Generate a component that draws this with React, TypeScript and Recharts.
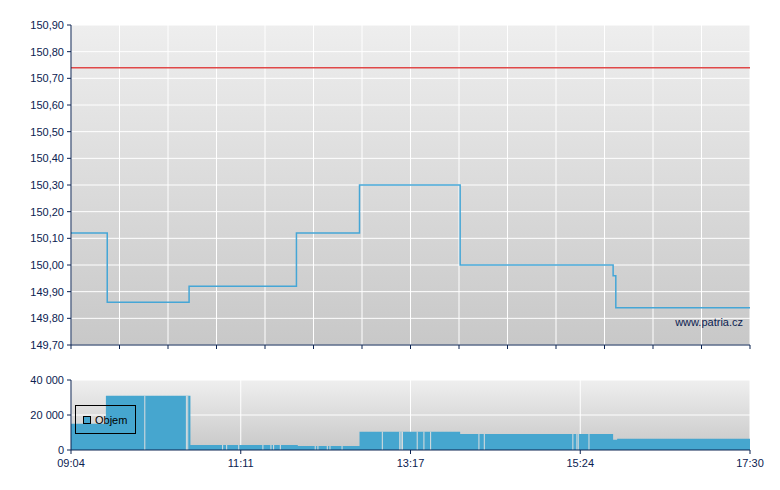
import React from 'react';
import {
  ComposedChart,
  Line,
  Area,
  XAxis,
  YAxis,
  CartesianGrid,
  ReferenceLine,
  Legend,
} from 'recharts';

// ---- data ----
const START = '09:04';
const END = '17:30';

const priceTimes = ['09:04', '09:31', '10:32', '11:52', '12:39', '13:54', '15:48', '15:50', '17:30'];
const priceValues = [150.12, 149.86, 149.92, 150.12, 150.3, 150.0, 149.96, 149.84, 149.84];
const referencePrice = 150.74;
const priceTicks = [149.7, 149.8, 149.9, 150.0, 150.1, 150.2, 150.3, 150.4, 150.5, 150.6, 150.7, 150.8, 150.9];

const volumeTimes = ['09:04', '09:30', '10:33', '11:53', '12:39', '13:54', '15:48', '15:51', '17:30'];
const volumeValues = [15000, 31000, 2900, 2300, 10500, 9200, 5900, 6500, 6500];
const volumeTicks = [0, 20000, 40000];
const volumeBreaks = [
  '09:59', '10:30', '10:31', '10:57', '11:00', '11:09', '11:27', '11:33', '11:35', '11:40',
  '12:06', '12:08', '12:15', '12:17', '12:26', '12:56', '13:09', '13:10', '13:11', '13:22',
  '13:27', '13:32', '14:08', '14:12', '15:18', '15:21', '15:22', '15:30',
];
const timeTickLabels = ['09:04', '11:11', '13:17', '15:24', '17:30'];
const priceGridDivisions = 14;

// ---- helpers ----
const toMin = (s: string) => {
  const [h, m] = s.split(':').map(Number);
  return h * 60 + m;
};
const t0 = toMin(START);
const span = toMin(END) - t0;
const rel = (s: string) => toMin(s) - t0;

const priceData = priceTimes.map((t, i) => ({ t: rel(t), p: priceValues[i] }));
const volumeData = volumeTimes.map((t, i) => ({ t: rel(t), v: volumeValues[i] }));
const volumeAt = (t: number) => {
  let v = volumeData[0].v;
  for (const d of volumeData) if (d.t <= t) v = d.v;
  return v;
};

const priceXTicks = Array.from({ length: priceGridDivisions + 1 }, (_, i) => (i * span) / priceGridDivisions);
const volXTicks = timeTickLabels.map((_, i) => (i * span) / (timeTickLabels.length - 1));

const NAVY = '#0b2251';
const BLUE_LINE = '#45a6d6';
const BLUE_FILL = '#46a6cf';
const FONT = '"Liberation Sans", Arial, sans-serif';

const fmtPrice = (v: number) => v.toFixed(2).replace('.', ',');
const fmtVol = (v: number) => (v === 0 ? '0' : String(v).replace(/\B(?=(\d{3})+(?!\d))/g, ' '));
const fmtTime = (v: number) => {
  const idx = volXTicks.findIndex((x) => Math.abs(x - v) < 0.01);
  return idx >= 0 ? timeTickLabels[idx] : '';
};

const LegendBox = () => (
  <div
    style={{
      border: '1px solid #000',
      width: 61,
      height: 29,
      boxSizing: 'border-box',
      display: 'flex',
      alignItems: 'center',
      fontFamily: FONT,
      fontSize: 11,
      color: '#000',
    }}
  >
    <span
      style={{
        display: 'inline-block',
        width: 6,
        height: 6,
        background: BLUE_FILL,
        border: '1px solid #000',
        marginLeft: 7,
        marginRight: 4,
      }}
    />
    <span>Objem</span>
  </div>
);

export default function App() {
  return (
    <div style={{ position: 'absolute', left: 0, top: 0, width: 780, height: 490, fontFamily: FONT, background: '#fff' }}>
      <div style={{ position: 'absolute', left: 0, top: 0 }}>
        <ComposedChart width={780} height={360} data={priceData} margin={{ top: 25, right: 30, left: 0, bottom: 0 }}>
          <defs>
            <linearGradient id="bgPrice" x1="0" y1="0" x2="0" y2="1">
              <stop offset="0%" stopColor="#eeeeee" />
              <stop offset="100%" stopColor="#c8c8c8" />
            </linearGradient>
          </defs>
          <CartesianGrid stroke="#ffffff" strokeWidth={1} fill="url(#bgPrice)" fillOpacity={1} />
          <XAxis
            dataKey="t"
            type="number"
            domain={[0, span]}
            ticks={priceXTicks}
            tickFormatter={() => ''}
            height={15}
            tickSize={4}
            axisLine={{ stroke: NAVY }}
            tickLine={{ stroke: NAVY }}
            interval={0}
          />
          <YAxis
            type="number"
            domain={[149.7, 150.9]}
            ticks={priceTicks}
            tickFormatter={fmtPrice}
            width={71}
            tickSize={4}
            tickMargin={3}
            axisLine={{ stroke: NAVY }}
            tickLine={{ stroke: NAVY }}
            tick={{ fill: NAVY, fontSize: 11 }}
            interval={0}
            allowDataOverflow
          />
          <ReferenceLine y={referencePrice} stroke="#e04848" strokeWidth={1.5} />
          <Line
            type="stepAfter"
            dataKey="p"
            stroke={BLUE_LINE}
            strokeWidth={1.5}
            dot={false}
            activeDot={false}
            isAnimationActive={false}
          />
        </ComposedChart>
      </div>
      <div
        style={{
          position: 'absolute',
          right: 37,
          top: 316,
          fontSize: 11,
          color: NAVY,
          fontFamily: FONT,
        }}
      >
        www.patria.cz
      </div>
      <div style={{ position: 'absolute', left: 0, top: 370 }}>
        <ComposedChart width={780} height={120} data={volumeData} margin={{ top: 10, right: 30, left: 0, bottom: 10 }}>
          <defs>
            <linearGradient id="bgVol" x1="0" y1="0" x2="0" y2="1">
              <stop offset="0%" stopColor="#efefef" />
              <stop offset="100%" stopColor="#c8c8c8" />
            </linearGradient>
          </defs>
          <CartesianGrid stroke="#ffffff" strokeWidth={1} fill="url(#bgVol)" fillOpacity={1} />
          <XAxis
            dataKey="t"
            type="number"
            domain={[0, span]}
            ticks={volXTicks}
            tickFormatter={fmtTime}
            height={30}
            tickSize={4}
            tickMargin={5}
            axisLine={{ stroke: NAVY }}
            tickLine={{ stroke: NAVY }}
            tick={{ fill: NAVY, fontSize: 11 }}
            interval={0}
          />
          <YAxis
            type="number"
            domain={[0, 40000]}
            ticks={volumeTicks}
            tickFormatter={fmtVol}
            width={71}
            tickSize={4}
            tickMargin={3}
            axisLine={{ stroke: NAVY }}
            tickLine={{ stroke: NAVY }}
            tick={{ fill: NAVY, fontSize: 11 }}
            interval={0}
          />
          <Area
            type="stepAfter"
            dataKey="v"
            name="Objem"
            stroke="none"
            fill={BLUE_FILL}
            fillOpacity={1}
            isAnimationActive={false}
            activeDot={false}
          />
          {volumeBreaks.map((b) => {
            const t = rel(b);
            return (
              <ReferenceLine
                key={b}
                segment={[
                  { x: t, y: 0 },
                  { x: t, y: volumeAt(t) },
                ]}
                stroke="#dedede"
                strokeWidth={1}
              />
            );
          })}
          <Legend
            verticalAlign="middle"
            align="center"
            layout="horizontal"
            content={() => <LegendBox />}
            wrapperStyle={{ position: 'absolute', left: 75, top: 35, width: 61, height: 29 }}
          />
        </ComposedChart>
      </div>
    </div>
  );
}
